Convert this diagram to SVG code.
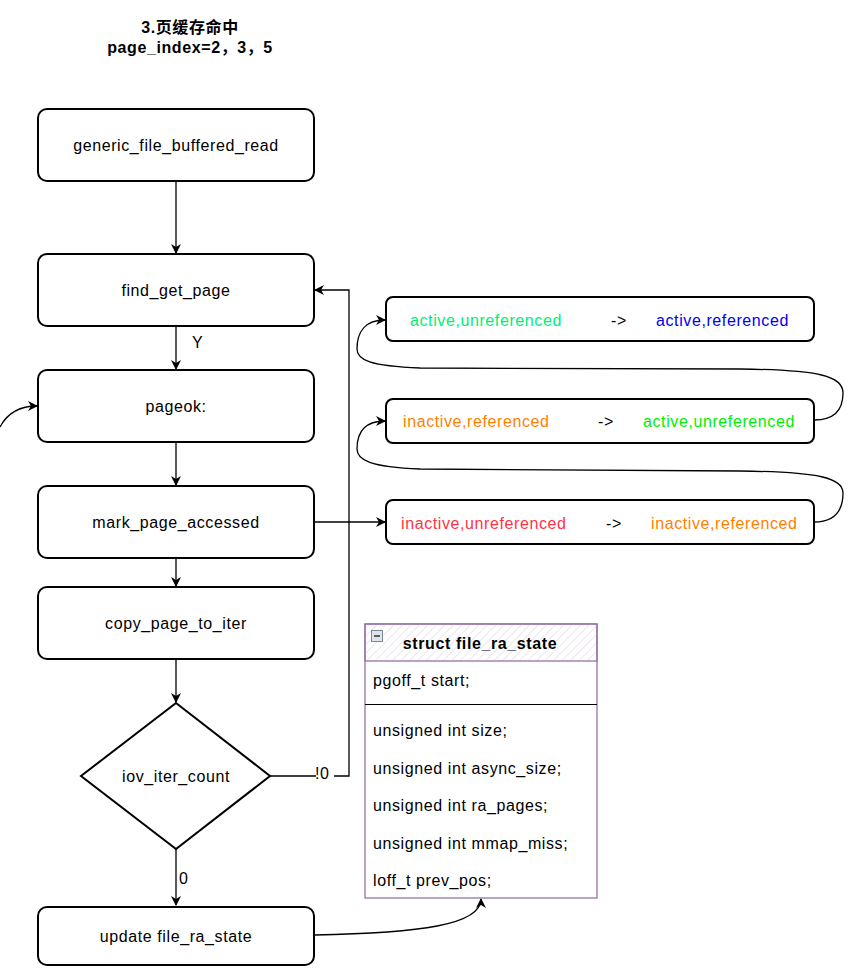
<svg xmlns="http://www.w3.org/2000/svg" width="863" height="978" viewBox="0 0 863 978">
<style>
.box{fill:#fff;stroke:#000;stroke-width:2}
.t{font-family:"Liberation Sans",Arial,sans-serif;font-size:16px;letter-spacing:0.6px;fill:#000}
.c{text-anchor:middle}
.ln{fill:none;stroke:#000;stroke-width:1.3}
.title{font-family:"Liberation Sans","Noto Sans CJK SC",sans-serif;font-size:16px;letter-spacing:0.6px;font-weight:bold;text-anchor:middle}
</style>
<defs>
<marker id="arr" viewBox="0 0 10 10" refX="9" refY="5" markerWidth="10" markerHeight="10" markerUnits="userSpaceOnUse" orient="auto">
<path d="M0,0 L10,5 L0,10 L3,5 Z" fill="#000"/>
</marker>
<pattern id="hatch" width="6" height="6" patternUnits="userSpaceOnUse" patternTransform="rotate(45)">
<line x1="0" y1="0" x2="0" y2="6" stroke="#d8cce0" stroke-width="1"/>
</pattern>
</defs>
<rect width="863" height="978" fill="#fff"/>
<g id="title">
<text class="title" x="190" y="33">3.页缓存命中</text>
<text class="title" x="190" y="53">page_index=2，3，5</text>
</g>
<g id="connectors">
<path class="ln" d="M176,181 V253" marker-end="url(#arr)"/>
<path class="ln" d="M176,326 V369" marker-end="url(#arr)"/>
<text class="t" x="192" y="348">Y</text>
<path class="ln" d="M176,442 V485" marker-end="url(#arr)"/>
<path class="ln" d="M176,558 V586" marker-end="url(#arr)"/>
<path class="ln" d="M176,659 V702" marker-end="url(#arr)"/>
<path class="ln" d="M270,776 H349 V290 H315" marker-end="url(#arr)"/>
<rect x="316" y="765" width="18" height="16" fill="#fff"/>
<text class="t" x="315" y="779">!0</text>
<path class="ln" d="M176,849 V905" marker-end="url(#arr)"/>
<text class="t" x="179" y="884">0</text>
<path class="ln" d="M314,522 H385" marker-end="url(#arr)"/>
<path class="ln" d="M814,522 C835,522 843,510 843,493 C843,478 820,472 740,471 L420,469 C370,467 357,460 357,449 C357,432 365,421 385,421" marker-end="url(#arr)"/>
<path class="ln" d="M814,420 C835,420 843,410 843,393 C843,376 820,370 740,369 L420,368 C370,366 357,360 357,349 C357,332 365,320 385,320" marker-end="url(#arr)"/>
<path class="ln" d="M0,427 C8,412 20,406 37,406" marker-end="url(#arr)"/>
<path class="ln" d="M314,935 C420,933 481,925 481,899" marker-end="url(#arr)"/>
</g>
<g id="n1"><rect class="box" x="38" y="109" width="276" height="72" rx="9"/><text class="t c" x="176" y="151">generic_file_buffered_read</text></g>
<g id="n2"><rect class="box" x="38" y="254" width="276" height="72" rx="9"/><text class="t c" x="176" y="296">find_get_page</text></g>
<g id="n3"><rect class="box" x="38" y="370" width="276" height="72" rx="9"/><text class="t c" x="176" y="412">pageok:</text></g>
<g id="n4"><rect class="box" x="38" y="486" width="276" height="72" rx="9"/><text class="t c" x="176" y="528">mark_page_accessed</text></g>
<g id="n5"><rect class="box" x="38" y="587" width="276" height="72" rx="9"/><text class="t c" x="176" y="629">copy_page_to_iter</text></g>
<g id="n6"><path class="box" d="M176,703 L270,776 L176,849 L81,776 Z"/><text class="t c" x="176" y="782">iov_iter_count</text></g>
<g id="n7"><rect class="box" x="38" y="907" width="276" height="58" rx="9"/><text class="t c" x="176" y="942">update file_ra_state</text></g>
<g id="s1"><rect class="box" x="386" y="297" width="428" height="44" rx="7"/>
<text class="t" x="410" y="326" style="fill:#00ee77">active,unreferenced</text>
<text class="t" x="611" y="326">-&gt;</text>
<text class="t" x="656" y="326" style="fill:#0000ee">active,referenced</text></g>
<g id="s2"><rect class="box" x="386" y="399" width="428" height="44" rx="7"/>
<text class="t" x="403" y="427" style="fill:#ff8000">inactive,referenced</text>
<text class="t" x="598" y="427">-&gt;</text>
<text class="t" x="643" y="427" style="fill:#00ee00">active,unreferenced</text></g>
<g id="s3"><rect class="box" x="386" y="500" width="428" height="44" rx="7"/>
<text class="t" x="401" y="529" style="fill:#ff3344">inactive,unreferenced</text>
<text class="t" x="606" y="529">-&gt;</text>
<text class="t" x="651" y="529" style="fill:#ff8000">inactive,referenced</text></g>
<g id="struct">
<rect x="365" y="624" width="232" height="274" fill="#fff" stroke="#9673a6" stroke-width="1.3"/>
<rect x="365" y="624" width="232" height="37" fill="url(#hatch)" stroke="#9673a6" stroke-width="1.3"/>
<rect x="371.5" y="630.5" width="11" height="11" fill="#dde4ea" stroke="#7a8a99"/>
<line x1="374" y1="636" x2="380" y2="636" stroke="#333" stroke-width="1.5"/>
<text x="480" y="649" style="font-family:'Liberation Sans',Arial,sans-serif;font-size:16px;letter-spacing:0.6px;font-weight:bold;text-anchor:middle">struct file_ra_state</text>
<text class="t" x="373" y="686">pgoff_t start;</text>
<line x1="365" y1="704.5" x2="597" y2="704.5" stroke="#000" stroke-width="1.2"/>
<text class="t" x="373" y="736">unsigned int size;</text>
<text class="t" x="373" y="774">unsigned int async_size;</text>
<text class="t" x="373" y="811">unsigned int ra_pages;</text>
<text class="t" x="373" y="849">unsigned int mmap_miss;</text>
<text class="t" x="373" y="886">loff_t prev_pos;</text>
</g>
</svg>
